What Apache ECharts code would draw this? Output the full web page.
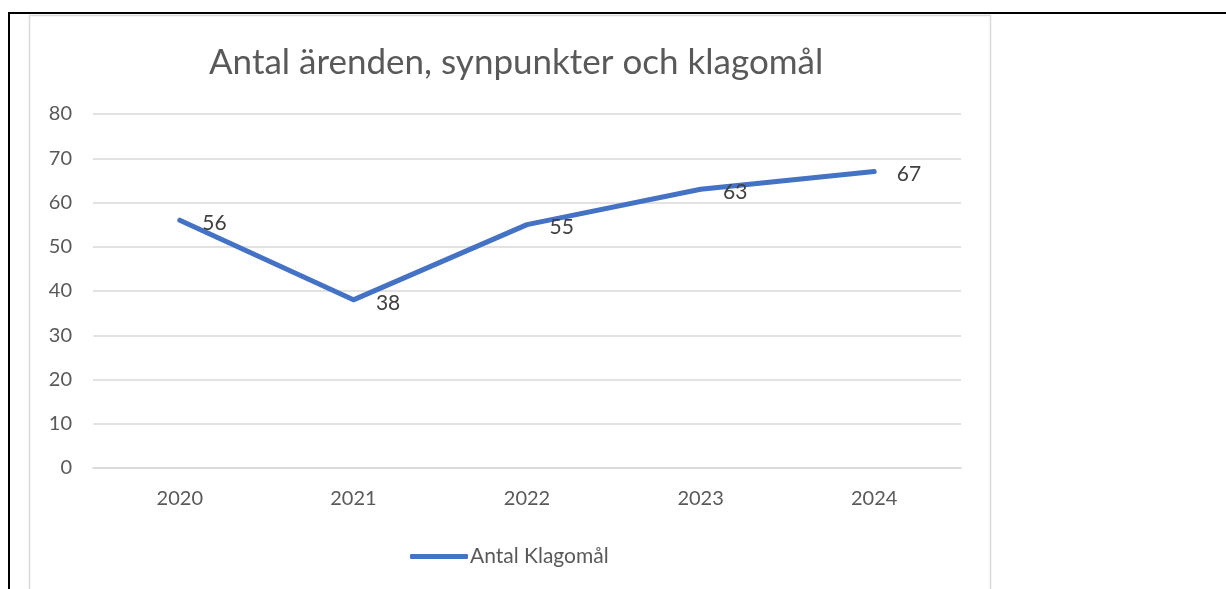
<!DOCTYPE html>
<html>
<head>
<meta charset="utf-8">
<script src="https://cdn.jsdelivr.net/npm/echarts@6/dist/echarts.min.js"></script>
<style>
  html, body { margin: 0; padding: 0; background: #fff; }
  #chart { width: 1226px; height: 589px; }
</style>
</head>
<body>
<div id="chart"></div>
<script>
const years = ['2020', '2021', '2022', '2023', '2024'];
const klagomal = [56, 38, 55, 63, 67];
const textColor = '#595959';
const font = 'Lato, "Open Sans", sans-serif';

const chart = echarts.init(document.getElementById('chart'), null, { renderer: 'canvas' });

const option = {
  backgroundColor: '#fff',
  animation: false,
  graphic: [
    // outer black frame (top + left)
    { type: 'rect', shape: { x: 8, y: 12, width: 1218, height: 2 }, style: { fill: '#000' } },
    { type: 'rect', shape: { x: 8, y: 12, width: 2, height: 577 }, style: { fill: '#000' } },
    // chart area grey border
    { type: 'rect', shape: { x: 29.5, y: 15.5, width: 961, height: 600 }, style: { fill: 'none', stroke: '#d9d9d9', lineWidth: 1.5 } }
  ],
  title: {
    text: 'Antal ärenden, synpunkter och klagomål',
    left: 204,
    top: 40,
    textStyle: { color: textColor, fontSize: 35, fontWeight: 'normal', fontFamily: font }
  },
  legend: {
    data: ['Antal Klagomål'],
    left: 405,
    top: 541,
    itemWidth: 58,
    itemHeight: 5,
    itemGap: 10,
    icon: 'roundRect',
    textStyle: { color: textColor, fontSize: 21, fontFamily: font, padding: [0, 0, 0, -3] }
  },
  grid: { left: 93, right: 265, top: 114, bottom: 121, containLabel: false },
  xAxis: {
    type: 'category',
    data: years,
    boundaryGap: true,
    axisLine: { show: true, lineStyle: { color: '#d9d9d9', width: 1.5 } },
    axisTick: { show: false },
    axisLabel: { color: textColor, fontSize: 20, fontFamily: font, margin: 21 }
  },
  yAxis: {
    type: 'value',
    min: 0,
    max: 80,
    interval: 10,
    axisLine: { show: false },
    axisTick: { show: false },
    splitLine: { lineStyle: { color: '#d9d9d9', width: 1.5 } },
    axisLabel: { color: textColor, fontSize: 20, fontFamily: font, margin: 21 }
  },
  series: [{
    name: 'Antal Klagomål',
    type: 'line',
    data: klagomal,
    symbol: 'circle',
    symbolSize: 1,
    showSymbol: true,
    lineStyle: { color: '#4472C4', width: 5, cap: 'round', join: 'round' },
    itemStyle: { color: '#4472C4' },
    label: {
      show: true,
      position: 'right',
      distance: 22,
      offset: [0, 3],
      color: '#404040',
      fontSize: 21,
      fontFamily: font
    }
  }]
};

chart.setOption(option);
</script>
</body>
</html>
